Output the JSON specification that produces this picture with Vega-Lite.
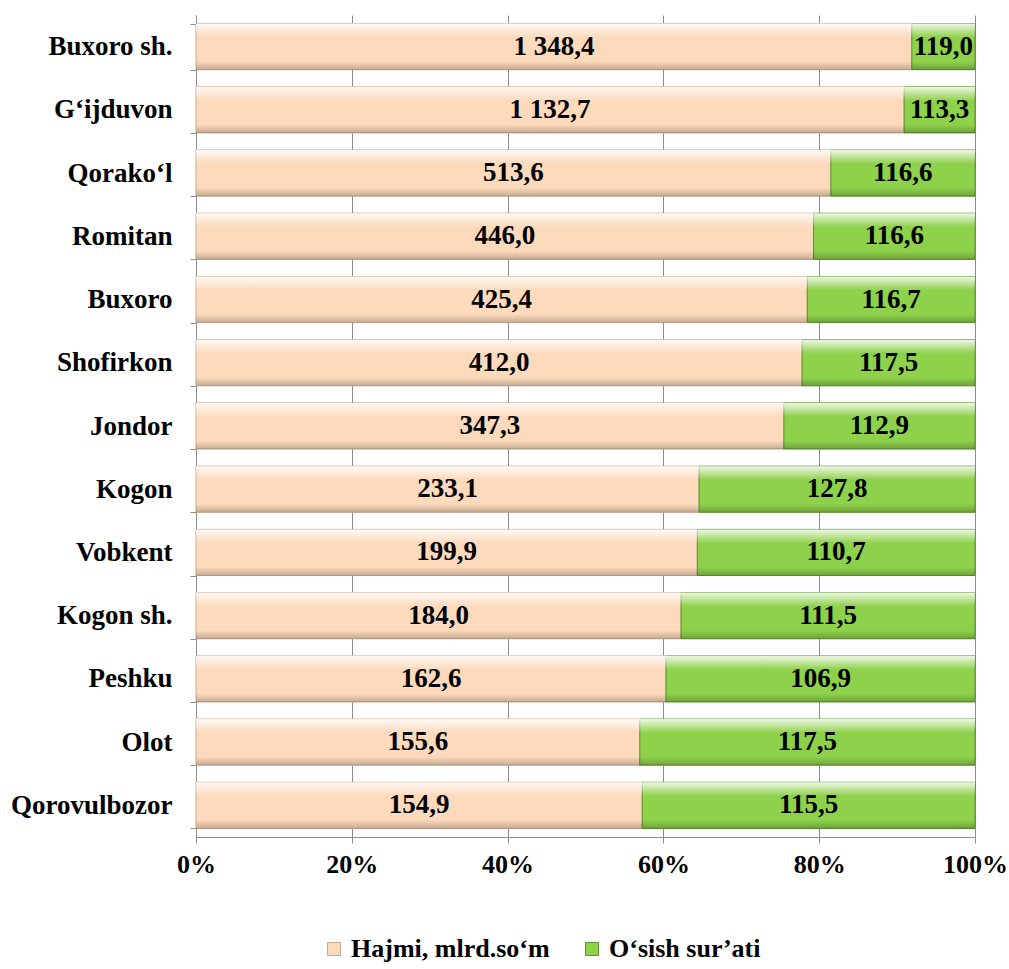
{
  "$schema": "https://vega.github.io/schema/vega-lite/v6.json",
  "width": 779,
  "height": 822,
  "autosize": {"type": "none"},
  "padding": {"left": 196, "top": 15, "right": 34, "bottom": 132},
  "background": "white",
  "config": {
    "font": "Liberation Serif",
    "view": {"stroke": null},
    "locale": {"number": {"decimal": ",", "thousands": " ", "grouping": [3], "currency": ["", ""]}}
  },
  "data": {
    "values": [
      {"region": "Buxoro  sh.", "series": "Hajmi, mlrd.so‘m", "ord": 1, "value": 1348.4},
      {"region": "Buxoro  sh.", "series": "O‘sish sur’ati", "ord": 2, "value": 119.0},
      {"region": "G‘ijduvon", "series": "Hajmi, mlrd.so‘m", "ord": 1, "value": 1132.7},
      {"region": "G‘ijduvon", "series": "O‘sish sur’ati", "ord": 2, "value": 113.3},
      {"region": "Qorako‘l", "series": "Hajmi, mlrd.so‘m", "ord": 1, "value": 513.6},
      {"region": "Qorako‘l", "series": "O‘sish sur’ati", "ord": 2, "value": 116.6},
      {"region": "Romitan", "series": "Hajmi, mlrd.so‘m", "ord": 1, "value": 446.0},
      {"region": "Romitan", "series": "O‘sish sur’ati", "ord": 2, "value": 116.6},
      {"region": "Buxoro", "series": "Hajmi, mlrd.so‘m", "ord": 1, "value": 425.4},
      {"region": "Buxoro", "series": "O‘sish sur’ati", "ord": 2, "value": 116.7},
      {"region": "Shofirkon", "series": "Hajmi, mlrd.so‘m", "ord": 1, "value": 412.0},
      {"region": "Shofirkon", "series": "O‘sish sur’ati", "ord": 2, "value": 117.5},
      {"region": "Jondor", "series": "Hajmi, mlrd.so‘m", "ord": 1, "value": 347.3},
      {"region": "Jondor", "series": "O‘sish sur’ati", "ord": 2, "value": 112.9},
      {"region": "Kogon", "series": "Hajmi, mlrd.so‘m", "ord": 1, "value": 233.1},
      {"region": "Kogon", "series": "O‘sish sur’ati", "ord": 2, "value": 127.8},
      {"region": "Vobkent", "series": "Hajmi, mlrd.so‘m", "ord": 1, "value": 199.9},
      {"region": "Vobkent", "series": "O‘sish sur’ati", "ord": 2, "value": 110.7},
      {"region": "Kogon sh.", "series": "Hajmi, mlrd.so‘m", "ord": 1, "value": 184.0},
      {"region": "Kogon sh.", "series": "O‘sish sur’ati", "ord": 2, "value": 111.5},
      {"region": "Peshku", "series": "Hajmi, mlrd.so‘m", "ord": 1, "value": 162.6},
      {"region": "Peshku", "series": "O‘sish sur’ati", "ord": 2, "value": 106.9},
      {"region": "Olot", "series": "Hajmi, mlrd.so‘m", "ord": 1, "value": 155.6},
      {"region": "Olot", "series": "O‘sish sur’ati", "ord": 2, "value": 117.5},
      {"region": "Qorovulbozor", "series": "Hajmi, mlrd.so‘m", "ord": 1, "value": 154.9},
      {"region": "Qorovulbozor", "series": "O‘sish sur’ati", "ord": 2, "value": 115.5}
    ]
  },
  "transform": [
    {"stack": "value", "groupby": ["region"], "offset": "normalize", "sort": [{"field": "ord", "order": "ascending"}], "as": ["v0", "v1"]},
    {"calculate": "(datum.v0 + datum.v1) / 2", "as": "mid"}
  ],
  "encoding": {
    "y": {
      "field": "region",
      "type": "nominal",
      "sort": null,
      "title": null,
      "scale": {"paddingInner": 0.27, "paddingOuter": 0.135},
      "axis": {
        "labelFont": "Liberation Serif",
        "labelFontSize": 27,
        "labelFontWeight": "bold",
        "labelColor": "black",
        "labelPadding": 18,
        "labelOverlap": false,
        "tickBand": "extent",
        "tickSize": 6,
        "tickColor": "#8c8c8c",
        "domainColor": "#8c8c8c",
        "grid": false
      }
    }
  },
  "layer": [
    {
      "mark": {"type": "bar", "strokeWidth": 1},
      "encoding": {
        "x": {
          "field": "v0",
          "type": "quantitative",
          "scale": {"domain": [0, 1]},
          "title": null,
          "axis": {
            "format": "0%",
            "values": [0, 0.2, 0.4, 0.6, 0.8, 1],
            "labelOverlap": false,
            "labelFlush": false,
            "labelFont": "Liberation Serif",
            "labelFontSize": 26,
            "labelFontWeight": "bold",
            "labelColor": "black",
            "labelPadding": 8,
            "tickSize": 6,
            "tickColor": "#8c8c8c",
            "domainColor": "#8c8c8c",
            "grid": true,
            "gridColor": "#8c8c8c",
            "gridWidth": 1
          }
        },
        "x2": {"field": "v1"},
        "color": {
          "field": "series",
          "type": "nominal",
          "scale": {"domain": ["Hajmi, mlrd.so‘m", "O‘sish sur’ati"], "range": ["#fcdabb", "#8ed14b"]},
          "legend": {
            "title": null,
            "orient": "none",
            "direction": "horizontal",
            "legendX": 125,
            "legendY": 921,
            "symbolType": "square",
            "symbolSize": 170,
            "symbolStrokeWidth": 1,
            "symbolStrokeColor": "#999999",
            "labelFont": "Liberation Serif",
            "labelFontSize": 26,
            "labelFontWeight": "bold",
            "labelColor": "black",
            "labelOffset": 4,
            "labelLimit": 400,
            "columnPadding": 29
          }
        },
        "stroke": {
          "field": "series",
          "type": "nominal",
          "scale": {"domain": ["Hajmi, mlrd.so‘m", "O‘sish sur’ati"], "range": ["#c9a88e", "#5e9130"]},
          "legend": null
        }
      }
    },
    {
      "mark": {
        "type": "bar",
        "fill": {
          "gradient": "linear", "x1": 0, "y1": 0, "x2": 0, "y2": 1,
          "stops": [
            {"offset": 0, "color": "rgba(255,255,255,0.85)"},
            {"offset": 0.3, "color": "rgba(255,255,255,0)"},
            {"offset": 0.82, "color": "rgba(0,0,0,0)"},
            {"offset": 1, "color": "rgba(0,0,0,0.22)"}
          ]
        }
      },
      "encoding": {
        "x": {"field": "v0", "type": "quantitative"},
        "x2": {"field": "v1"}
      }
    },
    {
      "mark": {"type": "text", "font": "Liberation Serif", "fontSize": 27, "fontWeight": "bold", "color": "black", "baseline": "middle", "align": "center"},
      "encoding": {
        "x": {"field": "mid", "type": "quantitative"},
        "text": {"field": "value", "type": "quantitative", "format": ",.1f"}
      }
    }
  ]
}
